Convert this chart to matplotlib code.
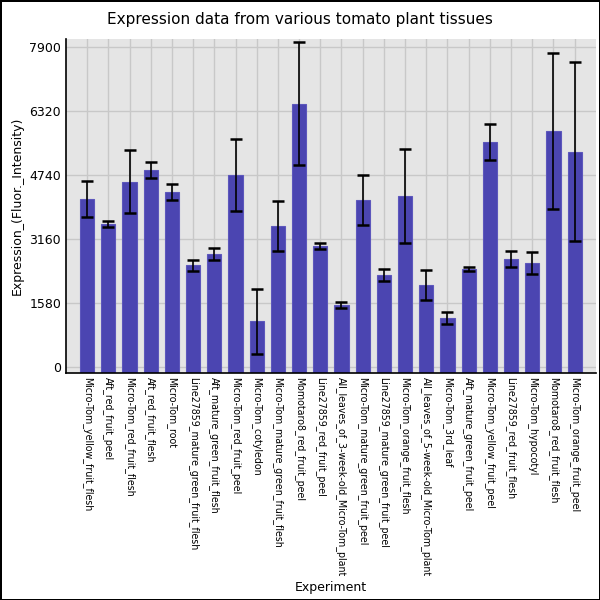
import matplotlib.pyplot as plt
import numpy as np

experiments = [
    "Micro-Tom_yellow_fruit_flesh",
    "Aft_red_fruit_peel",
    "Micro-Tom_red_fruit_flesh",
    "Aft_red_fruit_flesh",
    "Micro-Tom_root",
    "Line27859_mature_green_fruit_flesh",
    "Aft_mature_green_fruit_flesh",
    "Micro-Tom_red_fruit_peel",
    "Micro-Tom_cotyledon",
    "Micro-Tom_mature_green_fruit_flesh",
    "Momotaro8_red_fruit_peel",
    "Line27859_red_fruit_peel",
    "All_leaves_of_3-week-old_Micro-Tom_plant",
    "Micro-Tom_mature_green_fruit_peel",
    "Line27859_mature_green_fruit_peel",
    "Micro-Tom_orange_fruit_flesh",
    "All_leaves_of_5-week-old_Micro-Tom_plant",
    "Micro-Tom_3rd_leaf",
    "Aft_mature_green_fruit_peel",
    "Micro-Tom_yellow_fruit_peel",
    "Line27859_red_fruit_flesh",
    "Micro-Tom_hypocotyl",
    "Momotaro8_red_fruit_flesh",
    "Micro-Tom_orange_fruit_peel",
]
expression = [4140, 3525, 4575, 4860, 4315, 2515, 2785, 4740, 1130, 3480,
              6490, 2985, 1525, 4120, 2265, 4220, 2020, 1210, 2415, 5550,
              2665, 2565, 5820, 5310]
errors = [445, 75, 765, 200, 198, 136, 157, 893, 800, 621,
          1518, 83, 70, 625, 140, 1160, 375, 140, 45, 450,
          190, 260, 1934, 2210]
yticks = [0, 1580, 3160, 4740, 6320, 7900]

ymin, ymax = -153, 8090

fig = plt.figure(figsize=(6, 6), dpi=100)
fig.patch.set_edgecolor("black")
fig.patch.set_linewidth(2)
ax = fig.add_axes([0.11, 0.378, 0.883, 0.557])
ax.set_facecolor("#e5e5e5")

x = np.arange(len(experiments))
vals = np.array(expression)
ax.bar(x, vals - ymin, bottom=ymin, width=0.67, color="#4b45b1",
       edgecolor="#5d57bc", linewidth=0.8, zorder=2)
ax.errorbar(x, vals, yerr=errors, fmt="none", ecolor="black",
            elinewidth=1.2, capsize=4, capthick=1.8, zorder=3)

ax.set_xlim(-1, len(experiments))
ax.set_ylim(ymin, ymax)
ax.set_yticks(yticks)
ax.set_xticks(x)
ax.set_xticklabels(experiments, rotation=270)
ax.tick_params(axis="both", length=0, labelsize=9)
ax.tick_params(axis="x", labelsize=6.85, pad=3)
ax.grid(True, color="#c8c8c8", linewidth=1, zorder=0)
ax.set_axisbelow(True)

for side in ["top", "right"]:
    ax.spines[side].set_visible(False)
ax.spines["left"].set_linewidth(1.2)
ax.spines["bottom"].set_linewidth(1.2)

fig.suptitle("Expression data from various tomato plant tissues",
             fontsize=11, x=0.5, y=0.967, va="center")
ax.set_ylabel("Expression_(Fluor._Intensity)", fontsize=9)
ax.set_xlabel("Experiment", fontsize=9, labelpad=3)

fig.savefig("out.png", dpi=100, edgecolor=fig.get_edgecolor())
